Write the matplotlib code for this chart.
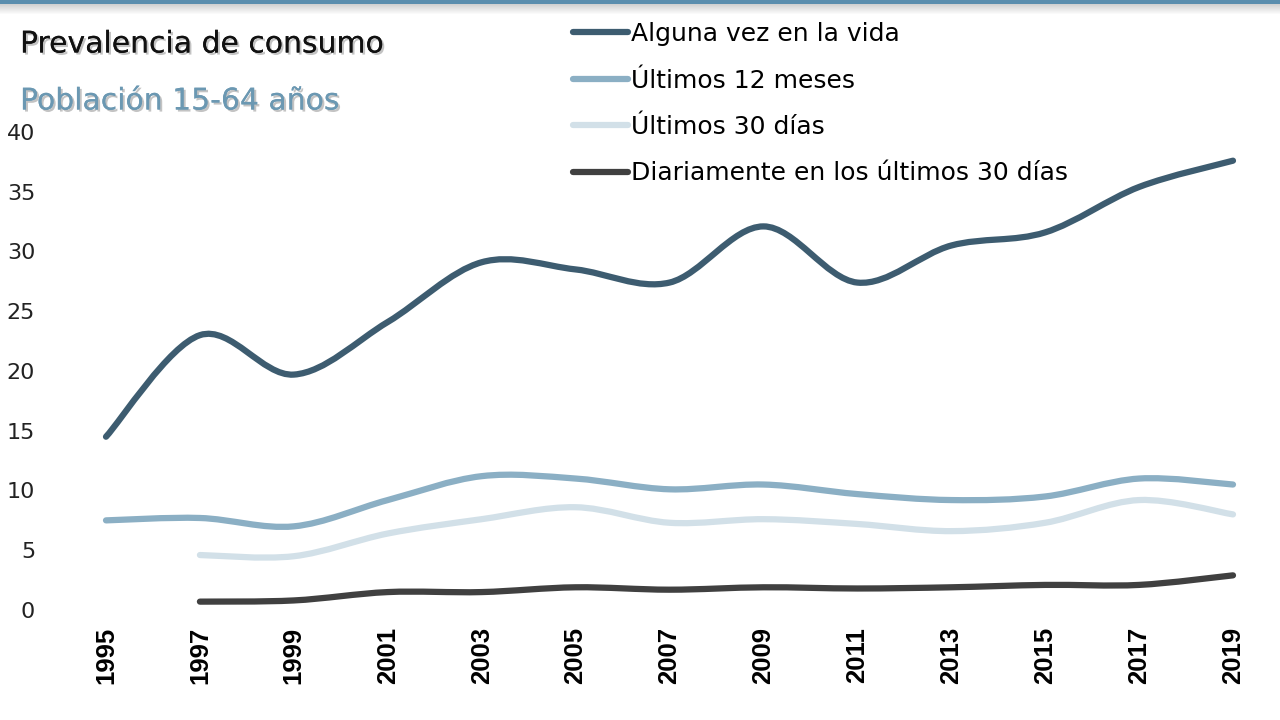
################################################################################
##### prevalencia de consumo, poblacion 15-64 anos #####
import matplotlib
matplotlib.use('Agg')
import matplotlib.pyplot as plt
import matplotlib.patheffects as pe
from matplotlib.path import Path
from matplotlib.patches import PathPatch, Rectangle
from matplotlib.lines import Line2D
import numpy as np

################################################################################
##### data #####
years = [1995, 1997, 1999, 2001, 2003, 2005, 2007, 2009, 2011, 2013, 2015, 2017, 2019]
alguna_vez = [14.5, 23.0, 19.7, 24.1, 29.1, 28.5, 27.4, 32.1, 27.4, 30.5, 31.6, 35.4, 37.6]
ultimos_12 = [7.5, 7.7, 7.0, 9.2, 11.2, 11.0, 10.1, 10.5, 9.7, 9.2, 9.5, 11.0, 10.5]
ultimos_30 = [None, 4.6, 4.5, 6.4, 7.6, 8.6, 7.3, 7.6, 7.2, 6.6, 7.3, 9.2, 8.0]
diariamente = [None, 0.7, 0.8, 1.5, 1.5, 1.9, 1.7, 1.9, 1.8, 1.9, 2.1, 2.1, 2.9]

series_names = ['Alguna vez en la vida', 'Últimos 12 meses', 'Últimos 30 días',
                'Diariamente en los últimos 30 días']
series_values = [alguna_vez, ultimos_12, ultimos_30, diariamente]
series_colors = ['#3d5c70', '#8bafc4', '#d2e0e8', '#404040']

################################################################################
##### smoothed line like the spreadsheet one (bezier segments, drawn by matplotlib) #####
def smooth_path(xs, ys):
    pts = np.column_stack([xs, ys]).astype(float)
    n = len(pts)
    verts = [pts[0]]
    codes = [Path.MOVETO]
    for i in range(n - 1):
        p0 = pts[max(i - 1, 0)]
        p1 = pts[i]
        p2 = pts[i + 1]
        p3 = pts[min(i + 2, n - 1)]
        c1 = p1 + (p2 - p0) / 6.0
        c2 = p2 - (p3 - p1) / 6.0
        verts += [c1, c2, p2]
        codes += [Path.CURVE4] * 3
    return Path(verts, codes)

################################################################################
fig = plt.figure(figsize=(12.8, 7.2), dpi=100)
ax = fig.add_axes([106 / 1280, 1 - 610 / 720, (1233 - 106) / 1280, (610 - 132) / 720])
ax.set_xlim(1995, 2019)
ax.set_ylim(0, 40)

for vals, col in zip(series_values, series_colors):
    xs = [x for x, v in zip(years, vals) if v is not None]
    ys = [v for v in vals if v is not None]
    patch = PathPatch(smooth_path(xs, ys), facecolor='none', edgecolor=col, linewidth=4.5,
                      capstyle='round', joinstyle='round', clip_on=False)
    ax.add_patch(patch)

for sp in ax.spines.values():
    sp.set_visible(False)
ax.set_yticks(np.arange(0, 41, 5))
ax.set_xticks(years)
ax.set_xticklabels([str(y) for y in years], rotation=90, fontsize=18.5, fontweight='bold',
                   family='Liberation Sans', va='top')
ax.set_yticklabels([str(v) for v in range(0, 41, 5)], fontsize=16, family='DejaVu Sans',
                   color='#222222')
ax.tick_params(axis='both', length=0)
ax.tick_params(axis='y', pad=51)   # points, puts the labels' right edge near x=35px
ax.tick_params(axis='x', pad=12)

################################################################################
##### legend #####
handles = [Line2D([], [], color=c, linewidth=4.5, solid_capstyle='round') for c in series_colors]
fig.legend(handles, series_names, loc='upper left', bbox_to_anchor=(573 / 1280, 1 - 22 / 720),
           frameon=False, handlelength=2.2, handletextpad=0.12, labelspacing=0.9,
           borderpad=0, borderaxespad=0, prop={'family': 'DejaVu Sans', 'size': 18})

################################################################################
##### titles with a soft shadow #####
shadow = [pe.withSimplePatchShadow(offset=(1.5, -1.5), shadow_rgbFace='#888888', alpha=0.5), pe.Normal()]
fig.text(20 / 1280, 1 - 44 / 720, 'Prevalencia de consumo', fontsize=21.5, family='DejaVu Sans',
         color='#111111', va='center', ha='left', path_effects=shadow)
fig.text(20 / 1280, 1 - 101 / 720, 'Población 15-64 años', fontsize=21.5, family='DejaVu Sans',
         color='#6b98b2', va='center', ha='left', path_effects=shadow)

##### blue strip along the top with a grey fade below it #####
for k in range(10):
    fig.patches.append(Rectangle((0, 1 - (4 + k + 1) / 720), 1, 1 / 720, transform=fig.transFigure,
                                 facecolor='#999999', alpha=0.45 * (1 - k / 10), linewidth=0))
fig.patches.append(Rectangle((0, 1 - 4 / 720), 1, 4 / 720, transform=fig.transFigure,
                             facecolor='#5b8eae', linewidth=0))

fig.savefig('out.png', dpi=100)
